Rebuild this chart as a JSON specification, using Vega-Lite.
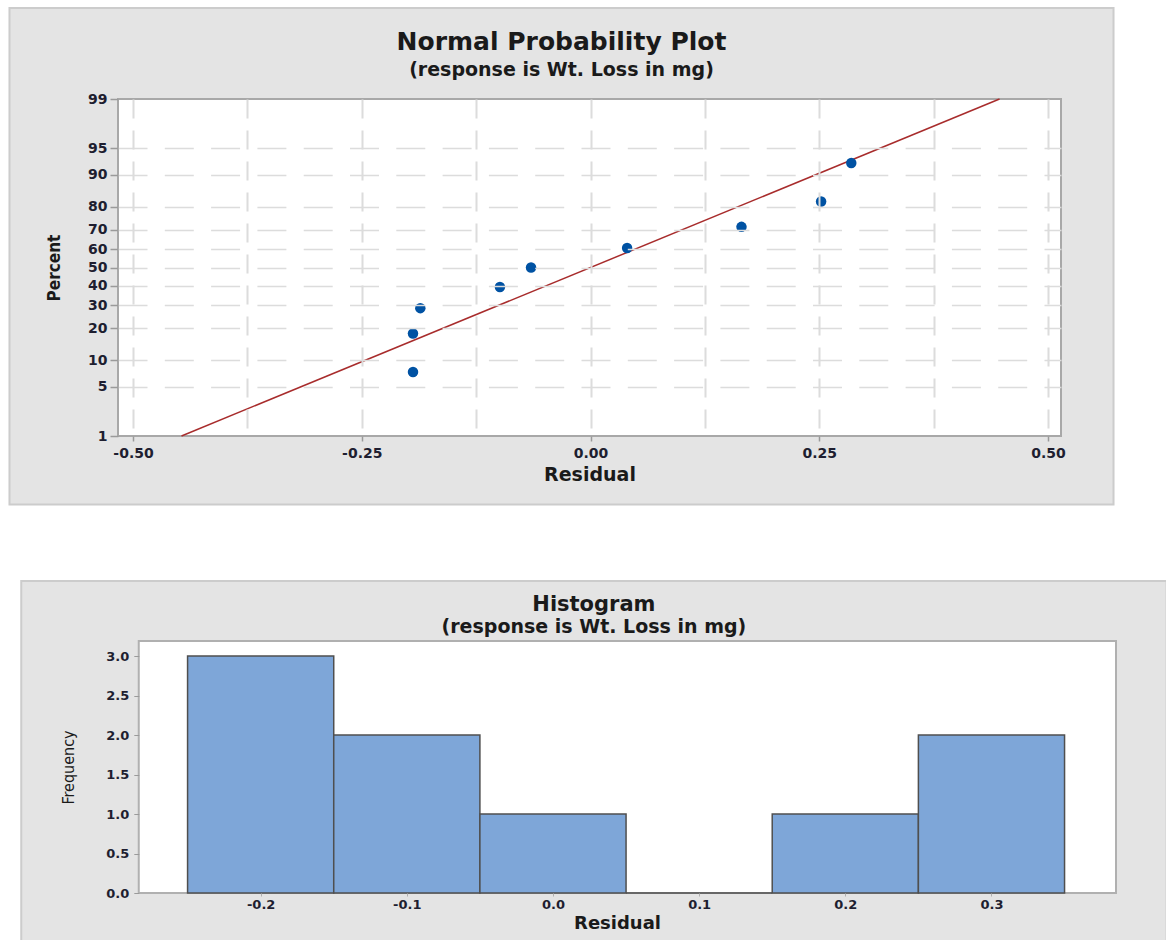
{
  "$schema": "https://vega.github.io/schema/vega-lite/v6.json",
  "background": "white",
  "padding": {"left": 8, "top": 6, "right": 0, "bottom": 0},
  "spacing": 74,
  "config": {
    "view": {"stroke": null},
    "axis": {
      "domain": false,
      "labelFont": "DejaVu Sans",
      "labelFontWeight": "bold",
      "labelColor": "#1e1e30",
      "titleFont": "DejaVu Sans",
      "titleFontWeight": "bold",
      "titleColor": "#1a1a1a",
      "tickColor": "#9a9a9a",
      "labelFlush": false,
      "labelOverlap": false,
      "labelBound": false,
      "zindex": 1
    }
  },
  "datasets": {
    "residuals": [
      {"residual": -0.194, "percent": 7.45, "score": -1.4436},
      {"residual": -0.194, "percent": 18.09, "score": -0.9122},
      {"residual": -0.186, "percent": 28.72, "score": -0.5614},
      {"residual": -0.099, "percent": 39.36, "score": -0.2691},
      {"residual": -0.065, "percent": 50.0, "score": 0.0},
      {"residual": 0.040, "percent": 60.64, "score": 0.2691},
      {"residual": 0.165, "percent": 71.28, "score": 0.5614},
      {"residual": 0.252, "percent": 81.91, "score": 0.9122},
      {"residual": 0.285, "percent": 92.55, "score": 1.4436}
    ],
    "fit": [
      {"residual": -0.447, "percent": 1, "score": -2.3263},
      {"residual": 0.447, "percent": 99, "score": 2.3263}
    ],
    "hist": [
      {"bin_start": -0.25, "bin_end": -0.15, "count": 3},
      {"bin_start": -0.15, "bin_end": -0.05, "count": 2},
      {"bin_start": -0.05, "bin_end": 0.05, "count": 1},
      {"bin_start": 0.05, "bin_end": 0.15, "count": 0},
      {"bin_start": 0.15, "bin_end": 0.25, "count": 1},
      {"bin_start": 0.25, "bin_end": 0.35, "count": 2}
    ]
  },
  "vconcat": [
    {
      "width": 943,
      "height": 337,
      "title": {
        "text": "Normal Probability Plot",
        "subtitle": "(response is Wt. Loss in mg)",
        "anchor": "middle",
        "frame": "bounds",
        "offset": -73,
        "font": "DejaVu Sans",
        "fontSize": 25,
        "fontWeight": "bold",
        "color": "#1a1a1a",
        "subtitleFont": "DejaVu Sans",
        "subtitleFontSize": 19,
        "subtitleFontWeight": "bold",
        "subtitleColor": "#1a1a1a",
        "subtitlePadding": 6,
        "zindex": 1
      },
      "layer": [
        {
          "data": {"values": [{}]},
          "mark": {"type": "rect", "fill": "#e4e4e4", "stroke": "#cccccc", "strokeWidth": 2},
          "encoding": {
            "x": {"datum": -0.635},
            "x2": {"datum": 0.5716},
            "y": {"datum": 3.5827},
            "y2": {"datum": -3.272}
          }
        },
        {
          "data": {"values": [{}]},
          "mark": {"type": "rect", "fill": "white", "stroke": "#a8a8a8", "strokeWidth": 2},
          "encoding": {
            "x": {"datum": -0.5164},
            "x2": {"datum": 0.5142},
            "y": {"datum": -2.3263},
            "y2": {"datum": 2.3263}
          }
        },
        {
          "data": {"name": "fit"},
          "mark": {"type": "line", "color": "#a82c2c", "strokeWidth": 1.5},
          "encoding": {
            "x": {"field": "residual", "type": "quantitative"},
            "y": {"field": "score", "type": "quantitative"}
          }
        },
        {
          "data": {"name": "residuals"},
          "mark": {"type": "point", "filled": true, "size": 110, "color": "#0052a3", "opacity": 1},
          "encoding": {
            "x": {
              "field": "residual",
              "type": "quantitative",
              "scale": {"domain": [-0.5164, 0.5142], "nice": false, "zero": false},
              "axis": {
                "values": [-0.5, -0.375, -0.25, -0.125, 0, 0.125, 0.25, 0.375, 0.5],
                "tickCount": 30,
                "labelExpr": "abs(datum.value*4 - round(datum.value*4)) < 0.01 ? (datum.value < -0.001 ? '-' : '') + format(abs(datum.value), '.2f') : ''",
                "tickOpacity": {"condition": {"test": "abs(datum.value*4 - round(datum.value*4)) > 0.01", "value": 0}, "value": 1},
                "tickSize": 5,
                "tickWidth": 1.5,
                "labelFontSize": 14,
                "labelPadding": 5,
                "labelOverlap": false,
                "grid": true,
                "gridColor": "#dcdcdc",
                "gridWidth": 2,
                "gridDash": [19, 12],
                "title": "Residual",
                "titleFontSize": 19,
                "titlePadding": 5,
                "zindex": 1
              }
            },
            "y": {
              "field": "score",
              "type": "quantitative",
              "scale": {"domain": [-2.3263, 2.3263], "nice": false, "zero": false},
              "axis": {
                "values": [-2.3263, -1.6449, -1.2816, -0.8416, -0.5244, -0.2533, 0, 0.2533, 0.5244, 0.8416, 1.2816, 1.6449, 2.3263],
                "tickCount": 30,
                "labelExpr": "format(cumulativeNormal(datum.value) * 100, '.0f')",
                "tickSize": 8,
                "tickWidth": 1.5,
                "labelPadding": 3,
                "labelFontSize": 14,
                "labelOverlap": false,
                "grid": true,
                "gridColor": "#dcdcdc",
                "gridWidth": 1.5,
                "gridDash": [29, 17.3],
                "gridOpacity": {"condition": {"test": "abs(datum.value) > 2.3", "value": 0}, "value": 1},
                "title": "Percent",
                "titleFont": "'DejaVu Sans Condensed', 'DejaVu Sans', sans-serif",
                "titleFontSize": 17,
                "titlePadding": 24,
                "zindex": 1
              }
            }
          }
        }
      ]
    },
    {
      "width": 998,
      "height": 252,
      "title": {
        "text": "Histogram",
        "subtitle": "(response is Wt. Loss in mg)",
        "anchor": "middle",
        "frame": "bounds",
        "offset": -57,
        "font": "DejaVu Sans",
        "fontSize": 21,
        "fontWeight": "bold",
        "color": "#1a1a1a",
        "subtitleFont": "DejaVu Sans",
        "subtitleFontSize": 19,
        "subtitleFontWeight": "bold",
        "subtitleColor": "#1a1a1a",
        "subtitlePadding": 3,
        "zindex": 1
      },
      "layer": [
        {
          "data": {"values": [{}]},
          "mark": {"type": "rect", "fill": "#e4e4e4", "stroke": "#cccccc", "strokeWidth": 2},
          "encoding": {
            "x": {"datum": -0.3638},
            "x2": {"datum": 0.4198},
            "y": {"datum": 3.949},
            "y2": {"datum": -0.62}
          }
        },
        {
          "data": {"values": [{}]},
          "mark": {"type": "rect", "fill": "white", "stroke": "#b0b0b0", "strokeWidth": 2},
          "encoding": {
            "x": {"datum": -0.2834},
            "x2": {"datum": 0.3852},
            "y": {"datum": 0},
            "y2": {"datum": 3.19}
          }
        },
        {
          "data": {"name": "hist"},
          "mark": {"type": "rect", "fill": "#7ea6d8", "stroke": "#4f4f4f", "strokeWidth": 1.5},
          "encoding": {
            "x": {
              "field": "bin_start",
              "type": "quantitative",
              "scale": {"domain": [-0.2976, 0.3852], "nice": false, "zero": false},
              "axis": {
                "values": [-0.2, -0.1, 0, 0.1, 0.2, 0.3],
                "tickCount": 30,
                "labelExpr": "(datum.value < -0.001 ? '-' : '') + format(abs(datum.value), '.1f')",
                "tickSize": 3,
                "tickColor": "#b0b0b0",
                "labelFontSize": 13,
                "labelPadding": 2,
                "grid": false,
                "title": "Residual",
                "titleFontSize": 18,
                "titlePadding": 3,
                "zindex": 1
              }
            },
            "x2": {"field": "bin_end"},
            "y": {
              "field": "count",
              "type": "quantitative",
              "scale": {"domain": [0, 3.19], "nice": false, "zero": false},
              "axis": {
                "values": [0, 0.5, 1, 1.5, 2, 2.5, 3],
                "tickCount": 30,
                "labelExpr": "format(datum.value, '.1f')",
                "offset": -20.8,
                "tickSize": 5,
                "labelPadding": 5,
                "labelFontSize": 13,
                "grid": false,
                "title": "Frequency",
                "titleFont": "'DejaVu Sans Condensed', 'DejaVu Sans', sans-serif",
                "titleFontWeight": "normal",
                "titleFontSize": 16,
                "titlePadding": 29,
                "zindex": 1
              }
            },
            "y2": {"datum": 0}
          }
        }
      ]
    }
  ]
}
